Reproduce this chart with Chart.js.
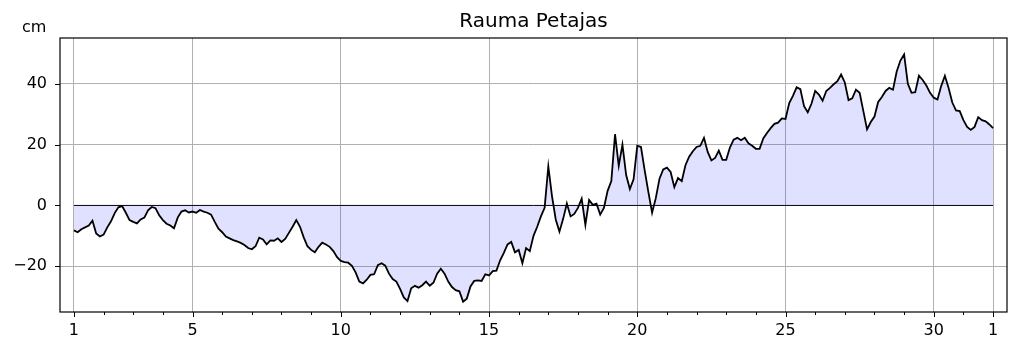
<!DOCTYPE html>
<html>
<head>
<meta charset="utf-8">
<script src="https://cdn.jsdelivr.net/npm/chart.js@4/dist/chart.umd.min.js"></script>
<style>
  html, body { margin: 0; padding: 0; background: #fff; }
  #wrap { width: 1019px; height: 352px; position: relative; }
</style>
</head>
<body>
<div id="wrap"><canvas id="chart"></canvas></div>
<script>
// sea level, cm, every 3 hours from day 1 00:00 to day 1 of next month
const startDay = 1;
const stepDays = 0.125;
const levelCm = [
  -8.2, -8.8, -7.8, -7.2, -6.6, -5.0, -9.2, -10.2,
  -9.6, -7.2, -5.2, -2.5, -0.6, -0.2, -2.4, -4.8,
  -5.4, -5.9, -4.6, -4.0, -1.6, -0.5, -0.9, -3.2,
  -4.8, -6.0, -6.6, -7.5, -4.0, -2.0, -1.6, -2.3,
  -2.0, -2.4, -1.5, -2.0, -2.4, -3.0, -5.4, -7.6,
  -8.8, -10.2, -10.8, -11.4, -11.8, -12.3, -13.0, -14.0,
  -14.4, -13.4, -10.6, -11.2, -12.8, -11.5, -11.6, -10.8,
  -12.0, -11.0, -9.0, -7.0, -4.8, -7.0, -10.5, -13.4,
  -14.6, -15.4, -13.6, -12.2, -12.8, -13.6, -15.0, -17.0,
  -18.2, -18.6, -18.8, -19.8, -22.0, -25.0, -25.6, -24.4,
  -22.8, -22.6, -19.6, -19.0, -19.8, -22.4, -24.2, -25.0,
  -27.4, -30.2, -31.4, -27.2, -26.4, -27.0, -26.2, -25.0,
  -26.4, -25.4, -22.4, -20.8, -22.4, -25.0, -26.8, -27.8,
  -28.2, -31.6, -30.6, -26.6, -24.8, -24.6, -24.8, -22.6,
  -23.0, -21.6, -21.4, -18.0, -15.6, -12.8, -12.0, -15.4,
  -14.6, -19.0, -14.0, -15.0, -10.0, -7.0, -3.6, -0.8,
  12.8, 3.0, -4.6, -8.6, -4.4, 0.6, -3.6, -2.8,
  -0.8, 2.2, -6.4, 1.8, 0.2, 0.6, -3.0, -0.8,
  4.8, 8.0, 23.4, 13.0, 20.0, 10.0, 5.4, 8.6,
  19.6, 19.2, 11.5, 4.4, -2.4, 2.4, 8.8, 11.8,
  12.4, 11.0, 6.0, 9.0, 8.0, 13.2, 16.0, 17.8,
  19.2, 19.6, 22.2, 17.6, 14.8, 15.6, 18.0, 15.0,
  15.0, 19.0, 21.6, 22.2, 21.4, 22.2, 20.4, 19.6,
  18.6, 18.6, 22.0, 23.8, 25.4, 26.8, 27.2, 28.6,
  28.4, 33.6, 36.0, 38.8, 38.2, 32.6, 30.6, 33.4,
  37.6, 36.4, 34.4, 37.6, 38.6, 39.8, 40.8, 43.0,
  40.4, 34.6, 35.2, 38.0, 37.0, 31.0, 25.0, 27.4,
  29.2, 34.0, 35.6, 37.6, 38.6, 38.0, 44.0, 47.6,
  49.6, 40.0, 37.0, 37.2, 42.6, 41.2, 39.4, 37.0,
  35.4, 34.8, 39.2, 42.6, 38.6, 33.8, 31.2, 31.0,
  28.0, 25.8, 24.8, 25.8, 29.0, 28.0, 27.6, 26.6,
  25.4
];

const majorDays = [1, 5, 10, 15, 20, 25, 30, 32];
const majorLabels = ["1", "5", "10", "15", "20", "25", "30", "1"];
const minorDays = [2, 3, 4, 6, 7, 8, 9, 11, 12, 13, 14, 16, 17, 18, 19, 21, 22, 23, 24, 26, 27, 28, 29, 31];
const yTicks = [-20, 0, 20, 40];

const points = levelCm.map((v, i) => ({ x: startDay + i * stepDays, y: v }));
const zeroLine = [{ x: majorDays[0], y: 0 }, { x: majorDays[majorDays.length - 1], y: 0 }];

const gridGrey = "#b0b0b0";
Chart.defaults.font.family = "'DejaVu Sans', sans-serif";
Chart.defaults.font.size = 16;
Chart.defaults.color = "#000";

// frame, tick marks and texts like the original figure
const framePlugin = {
  id: "frame",
  afterDraw(chart) {
    const { ctx, chartArea: a, scales } = chart;
    ctx.save();
    ctx.strokeStyle = "#000";
    ctx.lineWidth = 1.2;
    ctx.strokeRect(a.left, a.top, a.right - a.left, a.bottom - a.top);

    ctx.lineWidth = 1;
    ctx.beginPath();
    for (const d of majorDays) {
      const px = Math.round(scales.x.getPixelForValue(d)) + 0.5;
      ctx.moveTo(px, a.bottom);
      ctx.lineTo(px, a.bottom + 5);
    }
    for (const d of minorDays) {
      const px = Math.round(scales.x.getPixelForValue(d)) + 0.5;
      ctx.moveTo(px, a.bottom);
      ctx.lineTo(px, a.bottom + 3);
    }
    for (const v of yTicks) {
      const py = Math.round(scales.y.getPixelForValue(v)) + 0.5;
      ctx.moveTo(a.left - 5, py);
      ctx.lineTo(a.left, py);
    }
    ctx.stroke();

    ctx.fillStyle = "#000";
    ctx.font = "20px 'DejaVu Sans'";
    ctx.textAlign = "center";
    ctx.textBaseline = "alphabetic";
    ctx.fillText("Rauma Petajas", (a.left + a.right) / 2, 27);
    ctx.font = "16px 'DejaVu Sans'";
    ctx.textAlign = "left";
    ctx.fillText("cm", 22, 32);
    ctx.restore();
  }
};

new Chart(document.getElementById("chart"), {
  type: "line",
  data: {
    datasets: [
      {
        data: points,
        borderColor: "#000",
        borderWidth: 1.8,
        backgroundColor: "rgba(0, 0, 255, 0.12)",
        fill: { value: 0 },
        pointRadius: 0,
        tension: 0
      },
      {
        data: zeroLine,
        borderColor: "#000",
        borderWidth: 1,
        pointRadius: 0,
        fill: false
      }
    ]
  },
  options: {
    responsive: true,
    maintainAspectRatio: false,
    animation: false,
    layout: { padding: { top: 38, right: 12, bottom: 0, left: 0 } },
    plugins: {
      legend: { display: false },
      title: { display: false },
      tooltip: { enabled: false }
    },
    scales: {
      x: {
        type: "linear",
        min: 0.53,
        max: 32.47,
        afterFit: (s) => { s.height = 40; },
        afterBuildTicks: (s) => { s.ticks = majorDays.map((v) => ({ value: v })); },
        ticks: {
          padding: 9,
          maxRotation: 0,
          autoSkip: false,
          callback: (v) => majorLabels[majorDays.indexOf(v)] ?? ""
        },
        grid: { color: gridGrey, lineWidth: 1, drawTicks: false },
        border: { display: false }
      },
      y: {
        min: -35,
        max: 55,
        afterFit: (s) => { s.width = 60; },
        afterBuildTicks: (s) => { s.ticks = yTicks.map((v) => ({ value: v })); },
        ticks: {
          padding: 13,
          callback: (v) => (v < 0 ? "\u2212" + Math.abs(v) : String(v))
        },
        grid: {
          color: (c) => (c.tick && c.tick.value === 0 ? "rgba(0,0,0,0)" : gridGrey),
          lineWidth: 1,
          drawTicks: false
        },
        border: { display: false }
      }
    }
  },
  plugins: [framePlugin]
});
</script>
</body>
</html>
